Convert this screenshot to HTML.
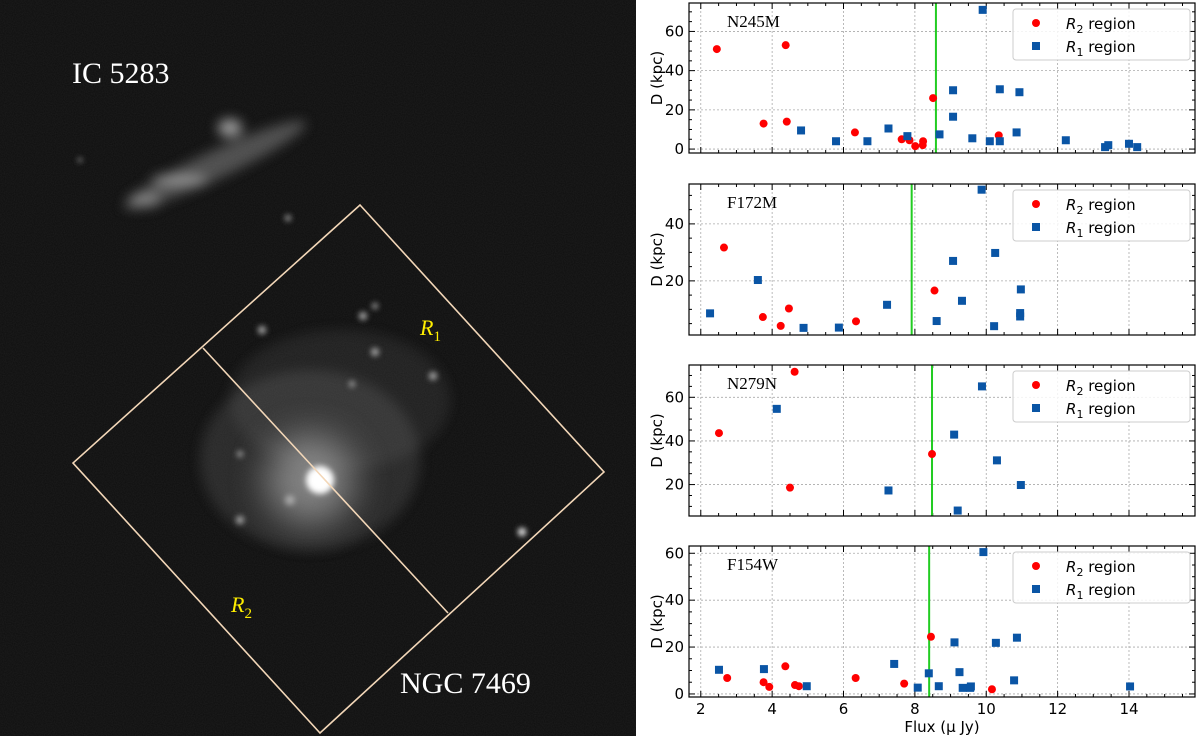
<!DOCTYPE html>
<html><head><meta charset="utf-8"><style>
html,body{margin:0;padding:0;background:#fff;}
svg{display:block;}
.tk{font-family:"DejaVu Sans","Liberation Sans",sans-serif;font-size:15px;fill:#000;}
.serif{font-family:"Liberation Serif",serif;}
</style></head><body>
<svg id="root" width="1200" height="736" viewBox="0 0 1200 736" xmlns="http://www.w3.org/2000/svg">
<defs>
<filter id="blur6" x="-50%" y="-50%" width="200%" height="200%"><feGaussianBlur stdDeviation="6"/></filter>
<filter id="blur3" x="-100%" y="-100%" width="300%" height="300%"><feGaussianBlur stdDeviation="3"/></filter>
<filter id="blur12" x="-100%" y="-100%" width="300%" height="300%"><feGaussianBlur stdDeviation="18"/></filter>
<filter id="noise" x="0" y="0" width="100%" height="100%"><feTurbulence type="fractalNoise" baseFrequency="0.9" numOctaves="1" seed="3"/><feColorMatrix type="matrix" values="0 0 0 0 0.2 0 0 0 0 0.2 0 0 0 0 0.2 0 0 0 0.5 0"/></filter>
<clipPath id="imgclip"><rect x="0" y="0" width="636" height="736"/></clipPath>
</defs>
<g clip-path="url(#imgclip)">
<rect x="0" y="0" width="636" height="736" fill="#0e0e0e"/>
<rect x="0" y="0" width="636" height="736" filter="url(#noise)" opacity="0.3"/>
<g fill="#999" filter="url(#blur6)">
<ellipse cx="215" cy="165" rx="100" ry="14" transform="rotate(-25 215 165)" opacity="0.45"/>
<ellipse cx="230" cy="128" rx="12" ry="9" fill="#bbb" opacity="0.8"/>
<ellipse cx="180" cy="180" rx="28" ry="6" fill="#aaa" opacity="0.7"/>
<ellipse cx="145" cy="200" rx="16" ry="7" fill="#999" opacity="0.7"/>
<ellipse cx="310" cy="460" rx="110" ry="90" opacity="0.18"/>
<ellipse cx="340" cy="400" rx="110" ry="70" opacity="0.12"/>
</g>
<circle cx="310" cy="480" r="45" fill="#bbb" filter="url(#blur12)" opacity="0.6"/>
<circle cx="320" cy="480" r="14" fill="#fff" filter="url(#blur3)"/>
<g fill="#aaa" filter="url(#blur3)">
<circle cx="363" cy="316" r="4"/><circle cx="375" cy="306" r="3"/><circle cx="262" cy="330" r="4"/>
<circle cx="433" cy="376" r="4"/><circle cx="240" cy="454" r="3"/><circle cx="352" cy="384" r="3"/>
<circle cx="288" cy="218" r="3"/><circle cx="522" cy="532" r="4" fill="#fff"/><circle cx="80" cy="160" r="2"/>
<circle cx="375" cy="352" r="4"/><circle cx="240" cy="520" r="4"/><circle cx="290" cy="500" r="5"/>
</g>
</g>
<g fill="none" stroke="#f3d7b8" stroke-width="1.6">
<polygon points="360,205 604,472 320,733 73,463"/>
<line x1="203" y1="348" x2="448" y2="613"/>
</g>
<text class="serif" x="72" y="83" font-size="30" fill="#fff">IC 5283</text>
<text class="serif" x="400" y="693" font-size="30" fill="#fff">NGC 7469</text>
<text class="serif" x="420" y="335" font-size="22" font-style="italic" fill="#ffee00">R<tspan font-size="15" dy="6" font-style="normal">1</tspan></text>
<text class="serif" x="231" y="612" font-size="22" font-style="italic" fill="#ffee00">R<tspan font-size="15" dy="6" font-style="normal">2</tspan></text>
<g id="charts"></g>
</svg>
<script>
const NS="http://www.w3.org/2000/svg";
const xTicks=[2,4,6,8,10,12,14];
const panelNames=["N245M","F172M","N279N","F154W"];
const p1RedX=[2.45,4.38,3.76,4.41,6.32,7.63,7.85,8.01,8.23,8.22,8.51,10.35];
const p1RedY=[51,53,13,14,8.5,5,4.5,1.5,4,2,26,7];
const p1BlueX=[4.81,5.79,6.67,7.26,7.79,8.69,9.07,9.07,9.61,9.90,10.10,10.38,10.38,10.85,10.93,12.23,13.33,13.42,14.0,14.23];
const p1BlueY=[9.5,4,4,10.5,6.6,7.5,30,16.5,5.5,71,4,30.5,4,8.5,29,4.5,1,2,2.7,1];
const p2RedX=[2.65,3.74,4.24,4.47,6.35,8.55];
const p2RedY=[31.7,7.3,4.2,10.3,5.8,16.6];
const p2BlueX=[2.26,3.6,4.88,5.87,7.22,8.61,9.07,9.32,9.87,10.22,10.25,10.97,10.95,10.95];
const p2BlueY=[8.6,20.3,3.5,3.6,11.6,5.9,27,13,52,4.1,29.8,17,8.7,7.5];
const p3RedX=[2.51,4.63,4.50,8.48];
const p3RedY=[43.6,71.7,18.6,34];
const p3BlueX=[4.13,7.26,9.10,9.20,9.88,10.30,10.97];
const p3BlueY=[54.7,17.3,42.9,8.1,65,31.1,19.8];
const p4RedX=[2.74,3.76,3.92,4.37,4.64,4.75,6.34,7.7,8.45,10.16];
const p4RedY=[6.8,5,3,11.8,3.8,3.3,6.8,4.4,24.4,2];
const p4BlueX=[2.51,3.77,4.97,7.42,8.08,8.39,8.67,9.11,9.25,9.34,9.55,9.57,9.92,10.27,10.78,10.86,14.03];
const p4BlueY=[10.3,10.6,3.3,12.8,2.7,8.8,3.3,22,9.3,2.6,2.6,3.2,60.5,21.8,5.8,24,3.2];
const thresholds=[8.59,7.91,8.48,8.40];
const yTickSets=[[0,20,40,60],[20,40],[20,40,60],[0,20,40,60]];
const yLims=[[-2,74.5],[1,54],[5.6,74.8],[-1.3,63.1]];
const series=[[p1RedX,p1RedY,p1BlueX,p1BlueY],[p2RedX,p2RedY,p2BlueX,p2BlueY],[p3RedX,p3RedY,p3BlueX,p3BlueY],[p4RedX,p4RedY,p4BlueX,p4BlueY]];
const tops=[3,184,365,546], bots=[153,335,516,697];
const L=689,R=1195,XMIN=1.67,XMAX=15.85;
const g=document.getElementById('charts');
function mk(tag,attrs,parent){const e=document.createElementNS(NS,tag);for(const k in attrs)e.setAttribute(k,attrs[k]);(parent||g).appendChild(e);return e;}
const sx=v=>L+(v-XMIN)/(XMAX-XMIN)*(R-L);
for(let p=0;p<4;p++){
  const T=tops[p],B=bots[p],[y0,y1]=yLims[p];
  const sy=v=>B-(v-y0)/(y1-y0)*(B-T);
  const pg=mk('g',{});
  
  
  xTicks.forEach(t=>{const l=mk('line',{x1:sx(t),x2:sx(t),y1:T,y2:B,stroke:'#aaa','stroke-width':0.8,'stroke-dasharray':'2,2'},pg);});
  yTickSets[p].forEach(t=>{const l=mk('line',{x1:L,x2:R,y1:sy(t),y2:sy(t),stroke:'#aaa','stroke-width':0.8,'stroke-dasharray':'2,2'},pg);});
  for(let v=2;v<=15.5;v+=0.5){const major=xTicks.includes(v);const len=major?6:3;
    mk('line',{x1:sx(v),x2:sx(v),y1:B,y2:B-len,stroke:'#000','stroke-width':1},pg);
    mk('line',{x1:sx(v),x2:sx(v),y1:T,y2:T+len,stroke:'#000','stroke-width':1},pg);}
  yTickSets[p].forEach(t=>{
    mk('line',{x1:L,x2:L+6,y1:sy(t),y2:sy(t),stroke:'#000'},pg);mk('line',{x1:R,x2:R-6,y1:sy(t),y2:sy(t),stroke:'#000'},pg);
    const tx=mk('text',{x:L-5,y:sy(t)+5,'text-anchor':'end',class:'tk'},pg);tx.textContent=t;
    });
  for(let v=Math.ceil(y0/5)*5;v<=y1;v+=5){if(!yTickSets[p].includes(v)){
    mk('line',{x1:L,x2:L+3,y1:sy(v),y2:sy(v),stroke:'#000'},pg);mk('line',{x1:R,x2:R-3,y1:sy(v),y2:sy(v),stroke:'#000'},pg);}}
  const yl=mk('text',{x:0,y:0,class:'tk',transform:`translate(${L-27},${(T+B)/2}) rotate(-90)`,'text-anchor':'middle','font-size':14},pg);
  yl.textContent='D (kpc)';
  const th=mk('line',{x1:sx(thresholds[p]),x2:sx(thresholds[p]),y1:T,y2:B,stroke:'#22cc22','stroke-width':2},pg);
  
  const [rx,ry,bx,by]=series[p];
  rx.forEach((x,i)=>{const c=mk('circle',{cx:sx(x),cy:sy(ry[i]),r:4,fill:'#ff0000'},pg);});
  bx.forEach((x,i)=>{const s=mk('rect',{x:sx(x)-4,y:sy(by[i])-4,width:8,height:8,fill:'#0a55a5'},pg);});
  mk('rect',{x:L,y:T,width:R-L,height:B-T,fill:'none',stroke:'#000','stroke-width':1.2},pg);
  const nm=mk('text',{x:727,y:T+24,class:'serif','font-size':17},pg);nm.textContent=panelNames[p];
  
  const lg=mk('g',{},pg);
  mk('rect',{x:1013,y:T+6,width:177,height:51,rx:3,fill:'#fff','fill-opacity':0.85,stroke:'#ccc'},lg);
  mk('circle',{cx:1036,cy:T+20,r:4,fill:'#ff0000'},lg);
  mk('rect',{x:1032,y:T+39,width:8,height:8,fill:'#0a55a5'},lg);
  const t1=mk('text',{x:1066,y:T+26,class:'tk'},lg);t1.innerHTML='<tspan font-style="italic">R</tspan><tspan font-size="11" dy="4">2</tspan><tspan dy="-4"> region</tspan>';
  
  const t2=mk('text',{x:1066,y:T+49,class:'tk'},lg);t2.innerHTML='<tspan font-style="italic">R</tspan><tspan font-size="11" dy="4">1</tspan><tspan dy="-4"> region</tspan>';
  
  if(p===3){xTicks.forEach(t=>{const tx=mk('text',{x:sx(t),y:B+17,'text-anchor':'middle',class:'tk'},pg);tx.textContent=t;});
    const xl=mk('text',{x:(L+R)/2,y:B+35,'text-anchor':'middle',class:'tk','font-size':14},pg);xl.textContent='Flux (\u03bc Jy)';
    }
}
</script>
</body></html>
